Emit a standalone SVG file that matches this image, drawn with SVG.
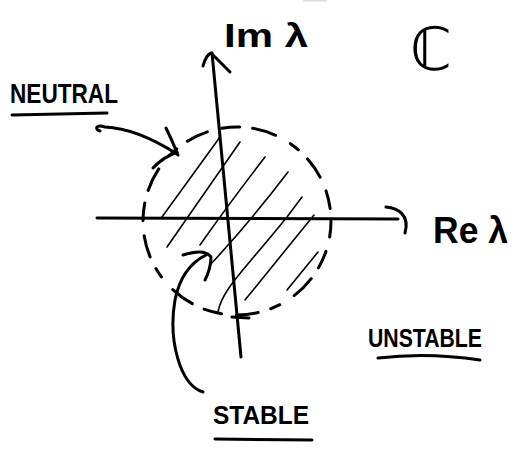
<svg xmlns="http://www.w3.org/2000/svg" width="514" height="455" viewBox="0 0 514 455">
<style>
.ink{fill:none;stroke:#000;stroke-linecap:round;stroke-linejoin:round}
.ax{stroke-width:3}
.hatch{stroke-width:1.6}
.rim{stroke-width:3;stroke-dasharray:22 15 18 13 24 17 10 13}
.lbl{font-family:"Liberation Sans","DejaVu Sans",sans-serif;font-weight:bold;fill:#000}
.ul{stroke-width:3}
</style>
<rect width="514" height="455" fill="#fff"/>
<rect x="303" y="0" width="24" height="1.5" fill="#ddd"/>
<g id="hatching" class="ink hatch">
<path d="M162,217 L220,137"/>
<path d="M167,247 L240,142"/>
<path d="M200,245 Q228,205 265,157"/>
<path d="M210,265 Q250,222 288,172"/>
<path d="M218,312 C222,290 240,275 287,217 L302,197"/>
<path d="M245,300 L314,215"/>
<path d="M287,290 L318,252"/>
</g>
<g id="circle" class="ink">
<circle class="rim" cx="237" cy="221" r="94" stroke-dashoffset="6"/>
</g>
<g id="axes" class="ink ax">
<path d="M212,53 L241,357"/>
<path d="M203,66 Q206,55 211,53 L230,72"/>
<path d="M232,317 L249,318"/>
<path d="M97,218 L398,219"/>
<path d="M386,207 C398,208 410,215 405,233"/>
</g>
<g id="im-label"><text class="lbl" x="224" y="47" font-size="34" textLength="84" lengthAdjust="spacingAndGlyphs">Im λ</text></g>
<g id="c-label"><text x="410" y="70" font-size="60" font-family="DejaVu Sans,sans-serif" fill="#000">ℂ</text></g>
<g id="re-label"><text class="lbl" x="433" y="243" font-size="36" textLength="75" lengthAdjust="spacingAndGlyphs">Re λ</text></g>
<g id="neutral">
<text class="lbl" x="10" y="103" font-size="28" textLength="108" lengthAdjust="spacingAndGlyphs">NEUTRAL</text>
<path class="ink ul" d="M12,115 L107,113"/>
</g>
<g id="unstable">
<text class="lbl" x="368" y="347" font-size="26" textLength="114" lengthAdjust="spacingAndGlyphs">UNSTABLE</text>
<path class="ink ul" d="M378,358 Q428,352 480,360"/>
</g>
<g id="stable">
<text class="lbl" x="213" y="424" font-size="25" textLength="96" lengthAdjust="spacingAndGlyphs">STABLE</text>
<path class="ink ul" d="M215,439 L312,440"/>
</g>
<g id="connectors" class="ink ax">
<path d="M100,131 C94,129 96,124 105,127 C130,128 155,140 177,154"/>
<path d="M166,128 Q172,140 178,155"/>
<path d="M153,168 Q162,158 177,152"/>
<path d="M203,392 C180,385 168,340 175,300 C180,275 192,262 206,255"/>
<path d="M183,255 Q205,248 211,257 Q211,268 205,280"/>
</g>
</svg>
